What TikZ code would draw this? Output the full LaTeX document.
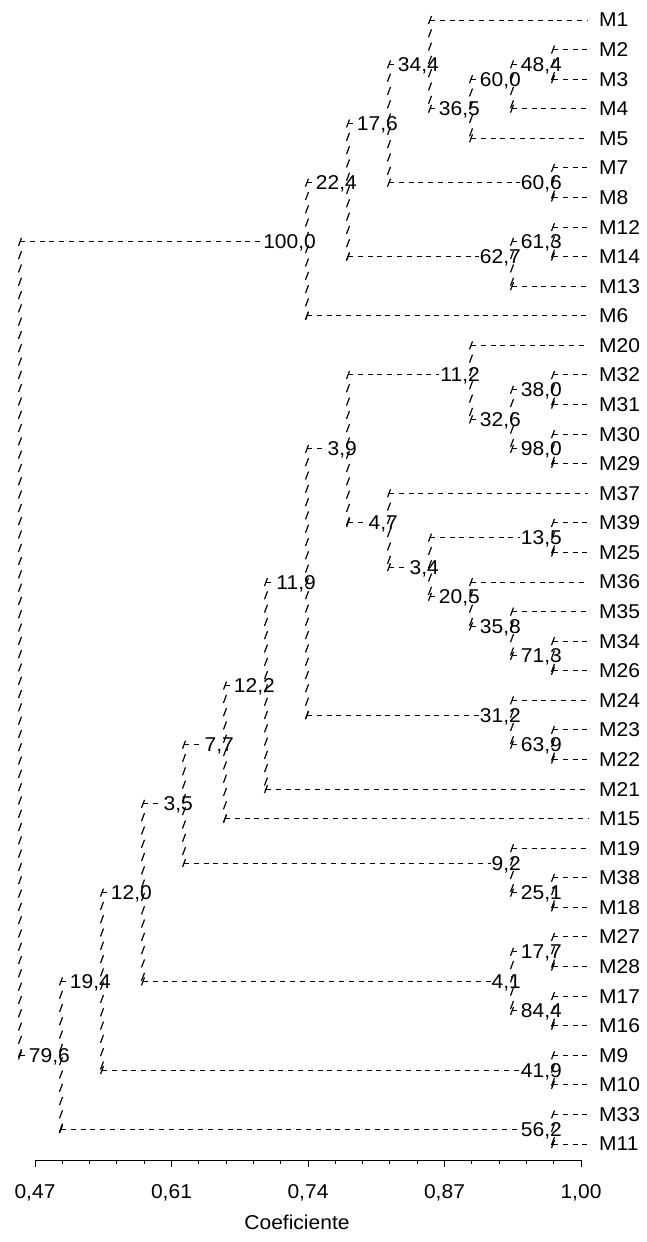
\documentclass[tikz,border=0pt]{standalone}
\usepackage{fontspec}
\setmainfont{Liberation Sans}[FakeStretch=1.05]
\usetikzlibrary{decorations.markings}
\newcommand\rowy[1]{{20+14.79*(#1)}}
\newcommand\lvx[1]{{553-41*(#1)}}
\newcommand\slashmk{\pgftransformresetnontranslations\draw[solid,line width=1.2pt] (-1.5pt,-4pt) -- (1.5pt,4pt);}
\begin{document}
\begin{tikzpicture}[x=1pt,y=-1pt,
  every node/.style={font=\fontsize{20}{23}\selectfont, inner sep=0pt},
  leaf/.style={anchor=west},
  lab/.style={anchor=east, fill=white, inner xsep=1pt, inner ysep=0.5pt, text depth=0pt},
  hconn/.style={line width=1pt, dash pattern=on 5pt off 4.8pt},
  vconn/.style={decorate, decoration={markings,
      mark=between positions 0 and 1 step 13.3pt with {\slashmk},
      mark=at position 1 with {\slashmk}}},
  axisline/.style={line width=1pt}]
\useasboundingbox (0,0) rectangle (646,1242);

% leaves
\foreach \n/\r in {M1/0,M2/2,M3/4,M4/6,M5/8,M7/10,M8/12,M12/14,M14/16,M13/18,M6/20,
  M20/22,M32/24,M31/26,M30/28,M29/30,M37/32,M39/34,M25/36,M36/38,M35/40,M34/42,M26/44,
  M24/46,M23/48,M22/50,M21/52,M15/54,M19/56,M38/58,M18/60,M27/62,M28/64,M17/66,M16/68,
  M9/70,M10/72,M33/74,M11/76}{
  \node[leaf] (\n) at (599,\rowy{\r}) {\n};
  \coordinate (\n-t) at (588,\rowy{\r});
}

% junctions
\foreach \n/\l/\r in {na/0/3, nb/1/4, nc/2/6, nd/3/3, nf/0/11, ne/4/7, ng/0/15, nh/1/16,
  ni/5/11, nj/6/15, np1/0/25, np2/0/29, nq/1/27, nr/2/24, ns1/0/35, ns2/0/43, ns3/1/41,
  ns4/2/39, ns5/3/37, ns6/4/34, nt/5/29, nu1/0/49, nu2/1/47, nv/6/38, nw/7/45, nx/8/49,
  ny1/0/59, ny2/1/57, nz/9/53, naa1/0/63, naa2/0/67, naa3/1/65, nbb/10/59, ncc1/0/71,
  ncc/11/65, ndd1/0/75, ndd/12/70, nroot/13/42}{
  \coordinate (\n) at (\lvx{\l},\rowy{\r});
  \coordinate (\n-t) at (\n);
}

\def\links{na/M2/M3, nb/na/M4, nc/nb/M5, nd/M1/nc, nf/M7/M8, ne/nd/nf, ng/M12/M14,
  nh/ng/M13, ni/ne/nh, nj/ni/M6, np1/M32/M31, np2/M30/M29, nq/np1/np2, nr/M20/nq,
  ns1/M39/M25, ns2/M34/M26, ns3/M35/ns2, ns4/M36/ns3, ns5/ns1/ns4, ns6/M37/ns5, nt/nr/ns6,
  nu1/M23/M22, nu2/M24/nu1, nv/nt/nu2, nw/nv/M21, nx/nw/M15, ny1/M38/M18, ny2/M19/ny1,
  nz/nx/ny2, naa1/M27/M28, naa2/M17/M16, naa3/naa1/naa2, nbb/nz/naa3, ncc1/M9/M10,
  ncc/nbb/ncc1, ndd1/M33/M11, ndd/ncc/ndd1, nroot/nj/ndd}

% horizontal connectors
\foreach \n/\a/\b in \links {
  \draw[hconn] (\n |- \a-t) -- (\a-t);
  \draw[hconn] (\n |- \b-t) -- (\b-t);
}

% values
\foreach \n/\t in {na/{48,4}, nb/{60,0}, nc/{36,5}, nd/{34,4}, nf/{60,6}, ne/{17,6},
  ng/{61,3}, nh/{62,7}, ni/{22,4}, nj/{100,0}, np1/{38,0}, np2/{98,0}, nq/{32,6},
  nr/{11,2}, ns1/{13,5}, ns2/{71,3}, ns3/{35,8}, ns4/{20,5}, ns5/{3,4}, ns6/{4,7},
  nt/{3,9}, nu1/{63,9}, nu2/{31,2}, nv/{11,9}, nw/{12,2}, nx/{7,7}, ny1/{25,1},
  ny2/{9,2}, nz/{3,5}, naa1/{17,7}, naa2/{84,4}, naa3/{4,1}, nbb/{12,0}, ncc1/{41,9},
  ncc/{19,4}, ndd1/{56,2}, ndd/{79,6}}{
  \node[lab] (lab-\n) at ([xshift=10pt]\n) {\t};
}

% vertical connectors
\foreach \n/\a/\b in \links {
  \path[vconn] (\n |- \a-t) -- (\n |- \b-t);
}

% axis
\coordinate (ax0) at (35,1160);
\coordinate (ax1) at (581,1160);
\draw[axisline] (ax0) -- (ax1);
\foreach \k in {0,...,20}{
  \pgfmathsetmacro\tl{mod(\k,5)==0 ? 7 : 4}
  \draw[axisline] ({35+27.3*\k},1160) -- ++(0,\tl);
}
\foreach \k/\t in {0/{0,47},1/{0,61},2/{0,74},3/{0,87},4/{1,00}}{
  \node (tick\k) at ({35+136.5*\k},1193) {\t};
}
\node (xtitle) at (297,1222) {Coeficiente};
\end{tikzpicture}
\end{document}
